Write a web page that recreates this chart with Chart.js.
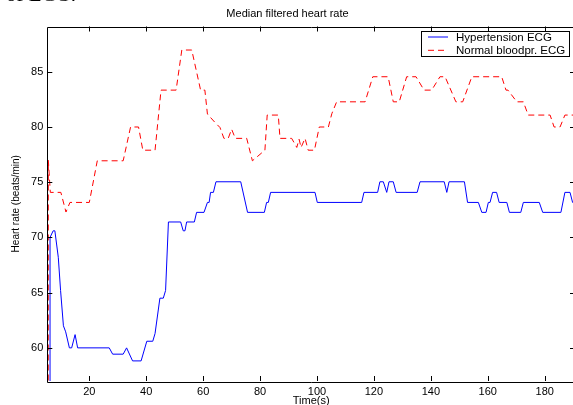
<!DOCTYPE html>
<html>
<head>
<meta charset="utf-8">
<script src="https://cdn.jsdelivr.net/npm/chart.js@4.4.1/dist/chart.umd.min.js"></script>
<style>
html, body { margin: 0; padding: 0; overflow: hidden; background: #fff; }
#wrap { position: relative; width: 573px; height: 405px; overflow: hidden; }
#wrap canvas { position: absolute; left: 0; top: 0; }
#cut { position: absolute; left: 6px; top: -16px; font: 21px "Liberation Serif", serif; line-height: 21px; color: #000; }
</style>
</head>
<body>
<div id="wrap">
  <canvas id="hrChart" width="575" height="410"></canvas>
  <div id="cut">of ECG.</div>
</div>
<script>
// time axis (s) and heart rate (beats/min)
var hyperTime = [6.2, 6.2, 7.3, 7.9, 9.1, 9.9, 10.9, 11.7, 13.0, 13.8, 15.0, 15.9, 27.0, 28.2, 31.9, 33.1, 35.2, 38.2, 40.2, 42.3,
    43.1, 44.8, 46.0, 46.8, 47.8, 52.1, 53.0, 53.6, 54.2, 56.9, 57.7, 60.3, 61.5, 62.1, 62.6, 63.6, 64.5, 73.2, 75.6, 81.5,
    82.3, 82.9, 83.7, 99.3, 100.1, 115.7, 116.5, 121.3, 122.1, 123.3, 124.5, 125.3, 126.8, 127.8, 135.2, 136.2, 144.7, 145.6, 146.4, 151.8,
    152.9, 156.7, 157.9, 159.4, 160.2, 160.8, 161.7, 163.1, 164.0, 166.7, 167.6, 171.6, 172.5, 178.1, 179.3, 185.7, 187.1, 188.9, 189.8, 192.4];
var hyperRate = [0, 70.0, 70.6, 70.6, 68.2, 65.2, 62.0, 61.45, 60.0, 60.0, 61.2, 60.0, 60.0, 59.43, 59.43, 60.0, 58.82, 58.82, 60.6, 60.6,
    61.3, 64.5, 64.5, 65.2, 71.4, 71.4, 70.6, 70.6, 71.4, 71.4, 72.27, 72.27, 73.17, 73.17, 74.08, 74.08, 75.04, 75.04, 72.27, 72.27,
    73.17, 73.17, 74.08, 74.08, 73.17, 73.17, 74.08, 74.08, 75.04, 75.04, 74.08, 75.04, 75.04, 74.08, 74.08, 75.04, 75.04, 74.08, 75.04, 75.04,
    73.17, 73.17, 72.27, 72.27, 73.17, 73.17, 74.08, 74.08, 73.17, 73.17, 72.27, 72.27, 73.17, 73.17, 72.27, 72.27, 74.08, 74.08, 73.17, 73.17];

var normalTime = [5.5, 5.6, 6.3, 10.0, 11.8, 13.2, 20.0, 22.8, 31.9, 34.5, 37.3, 38.8, 43.1, 45.2, 50.5, 52.5, 56.0, 59.1, 60.6, 61.5,
    64.2, 65.9, 67.3, 68.8, 70.0, 71.3, 75.3, 77.3, 81.7, 82.5, 86.4, 87.0, 91.1, 92.9, 93.7, 94.4, 95.8, 96.9, 99.1, 100.8,
    104.0, 105.2, 106.9, 116.9, 119.6, 125.0, 126.8, 128.9, 131.5, 134.8, 137.6, 140.3, 143.2, 145.0, 148.8, 151.2, 154.4, 164.9, 166.4, 167.1,
    170.2, 172.5, 174.2, 181.9, 183.3, 185.4, 187.1, 192.4];
var normalRate = [0, 77, 74.08, 74.08, 72.3, 73.17, 73.17, 76.94, 76.94, 80, 80, 77.9, 77.9, 83.34, 83.34, 86.97, 86.97, 83.34, 83.34, 81.17,
    80.4, 79.96, 78.97, 78.97, 79.8, 78.97, 78.97, 76.94, 77.9, 81.08, 81.08, 78.97, 78.97, 78.15, 78.9, 78.15, 78.97, 77.9, 77.9, 80,
    80, 81.2, 82.28, 82.28, 84.55, 84.55, 82.28, 82.28, 84.55, 84.55, 83.34, 83.34, 84.55, 84.55, 82.28, 82.28, 84.55, 84.55, 83.34, 83.34,
    82.28, 82.28, 81.08, 81.08, 80, 80, 81.08, 81.08];

var seriesNames = ['Hypertension ECG', 'Normal bloodpr. ECG'];
var xTicks = [20, 40, 60, 80, 100, 120, 140, 160, 180];
var yTicks = [60, 65, 70, 75, 80, 85];

var FONT = '"Liberation Sans", Arial, sans-serif';

function toPoints(xs, ys) {
    return xs.map((t, i) => ({ x: t, y: ys[i] }));
}

// matlab style box with inward ticks
var boxPlugin = {
    id: 'boxPlugin',
    afterDatasetsDraw(chart) {
        var ctx = chart.ctx, a = chart.chartArea;
        var xs = chart.scales.x, ys = chart.scales.y;
        ctx.save();
        ctx.strokeStyle = '#000';
        ctx.lineWidth = 1;
        ctx.beginPath();
        ctx.rect(Math.round(a.left) + 0.5, Math.round(a.top) + 0.5, a.right - a.left, Math.round(a.bottom - a.top));
        xs.ticks.forEach(t => {
            var p = Math.round(xs.getPixelForValue(t.value)) + 0.5;
            ctx.moveTo(p, a.top); ctx.lineTo(p, a.top + 5);
            ctx.moveTo(p, a.bottom); ctx.lineTo(p, a.bottom - 5);
        });
        ys.ticks.forEach(t => {
            var p = Math.round(ys.getPixelForValue(t.value)) + 0.5;
            ctx.moveTo(a.left, p); ctx.lineTo(a.left + 5, p);
            ctx.moveTo(a.right, p); ctx.lineTo(a.right - 5, p);
        });
        ctx.stroke();
        ctx.restore();
    }
};

// boxed legend in the upper right corner
var legendPlugin = {
    id: 'legendPlugin',
    afterDraw(chart) {
        var ctx = chart.ctx;
        var bx = 421.5, by = 31.5, bw = 148, bh = 25;
        ctx.save();
        ctx.fillStyle = '#fff';
        ctx.fillRect(bx, by, bw, bh);
        ctx.strokeStyle = '#000';
        ctx.lineWidth = 1;
        ctx.strokeRect(bx, by, bw, bh);
        ctx.font = '11.5px ' + FONT;
        ctx.textBaseline = 'middle';
        chart.data.datasets.forEach((ds, i) => {
            var yy = by + 5.5 + i * 13.3;
            ctx.strokeStyle = ds.borderColor;
            ctx.setLineDash(ds.borderDash || []);
            ctx.beginPath();
            ctx.moveTo(bx + 6.5, yy);
            ctx.lineTo(bx + 26.5, yy);
            ctx.stroke();
            ctx.setLineDash([]);
            ctx.fillStyle = '#000';
            ctx.fillText(ds.label, bx + 34.5, yy + 0.5);
        });
        ctx.restore();
    }
};

var ctx = document.getElementById('hrChart').getContext('2d');
var hrChart = new Chart(ctx, {
    type: 'line',
    data: {
        datasets: [{
            label: seriesNames[0],
            data: toPoints(hyperTime, hyperRate),
            borderColor: '#0000ff',
            borderWidth: 1,
            pointRadius: 0,
            tension: 0,
            fill: false
        }, {
            label: seriesNames[1],
            data: toPoints(normalTime, normalRate),
            borderColor: '#ff0000',
            borderWidth: 1,
            borderDash: [6, 4],
            pointRadius: 0,
            tension: 0,
            fill: false
        }]
    },
    options: {
        responsive: false,
        animation: false,
        layout: { padding: 0 },
        plugins: {
            legend: { display: false },
            tooltip: { enabled: false },
            title: {
                display: true,
                text: 'Median filtered heart rate',
                color: '#000',
                font: { family: FONT, size: 11, weight: 'normal', lineHeight: 1.2 },
                padding: { top: 7, bottom: 6.3 }
            }
        },
        scales: {
            x: {
                type: 'linear',
                min: 5.24,
                max: 190.65,
                afterBuildTicks: s => { s.ticks = xTicks.map(v => ({ value: v })); },
                afterFit: s => { s.height = 29; },
                grid: { display: false, drawTicks: false },
                border: { display: false },
                ticks: { color: '#000', padding: 4, maxRotation: 0, font: { family: FONT, size: 11 } },
                title: {
                    display: true,
                    text: 'Time(s)',
                    color: '#000',
                    font: { family: FONT, size: 11, lineHeight: 1.2 },
                    padding: { top: 0, bottom: 2.4 }
                }
            },
            y: {
                min: 57,
                max: 89.1,
                afterBuildTicks: s => { s.ticks = yTicks.map(v => ({ value: v })); },
                afterFit: s => { s.width = 47.3; },
                grid: { display: false, drawTicks: false },
                border: { display: false },
                ticks: { color: '#000', padding: 4, font: { family: FONT, size: 11 } },
                title: {
                    display: true,
                    text: 'Heart rate (beats/min)',
                    color: '#000',
                    font: { family: FONT, size: 10, lineHeight: 1.2 },
                    padding: { top: 10, bottom: 0 }
                }
            }
        }
    },
    plugins: [boxPlugin, legendPlugin]
});
</script>
</body>
</html>
